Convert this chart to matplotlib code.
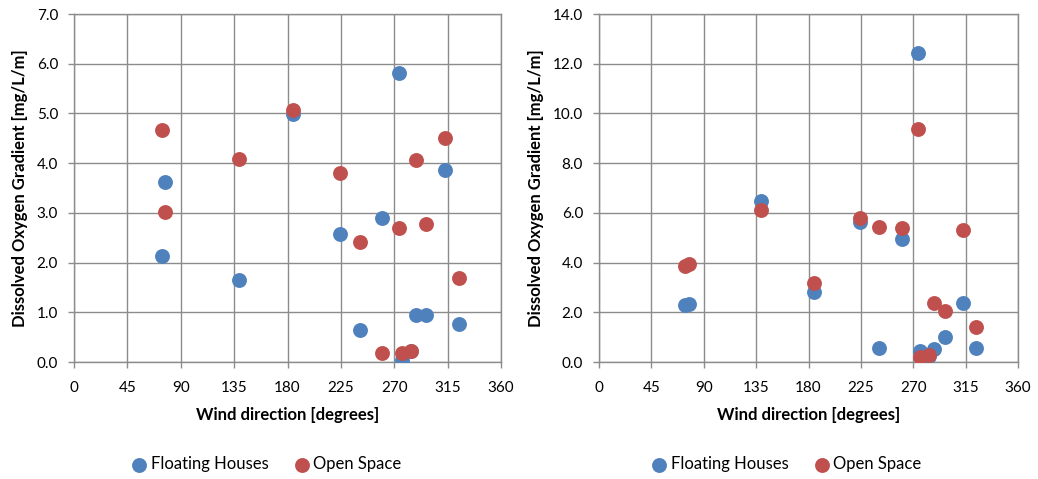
import matplotlib.pyplot as plt
from matplotlib.ticker import FormatStrFormatter

plt.rcParams['font.family'] = ['Lato', 'DejaVu Sans']

# wind direction [degrees], shared by both panels
wind_dir = [74, 77, 139.4, 185, 224, 241, 260, 274.4, 276.2, 283.8, 288, 297, 313, 324.2]

# left panel
left_floating = [2.14, 3.62, 1.65, 4.98, 2.58, 0.65, 2.90, 5.81, 0.05, 0.22, 0.94, 0.94, 3.86, 0.77]
left_open = [4.67, 3.01, 4.09, 5.07, 3.80, 2.42, 0.19, 2.69, 0.19, 0.23, 4.07, 2.78, 4.51, 1.68]

# right panel
right_floating = [2.29, 2.33, 6.47, 2.83, 5.64, 0.56, 4.93, 12.45, 0.46, 0.25, 0.52, 1.00, 2.38, 0.55]
right_open = [3.85, 3.95, 6.11, 3.18, 5.79, 5.44, 5.41, 9.38, 0.20, 0.27, 2.37, 2.06, 5.31, 1.39]

blue = '#4F81BD'
red = '#C0504D'
grid_col = '#8C8C8C'

fig = plt.figure(figsize=(10.38, 4.79), dpi=100)
W, H = 1038, 479
ax1 = fig.add_axes([74 / W, 1 - 362 / H, 427 / W, 348 / H])
ax2 = fig.add_axes([599 / W, 1 - 362 / H, 419 / W, 348 / H])


def style(ax, ymax, ystep):
    ax.set_xlim(0, 360)
    ax.set_ylim(0, ymax)
    ax.set_xticks(range(0, 361, 45))
    ax.set_yticks([i * ystep for i in range(int(round(ymax / ystep)) + 1)])
    ax.yaxis.set_major_formatter(FormatStrFormatter('%.1f'))
    ax.grid(True, color=grid_col, linewidth=1.0)
    ax.set_axisbelow(True)
    for s in ax.spines.values():
        s.set_color(grid_col)
        s.set_linewidth(1.0)
    ax.tick_params(labelcolor='black', length=4.5, width=1.0,
                   labelsize=11, color=grid_col, pad=7)
    ax.tick_params(axis='x', pad=9.5)
    ax.set_xlabel('Wind direction [degrees]', fontsize=12, fontweight='bold', labelpad=8)
    ax.set_ylabel('Dissolved Oxygen Gradient [mg/L/m]', fontsize=12, fontweight='bold', labelpad=6)


ax1.scatter(wind_dir, left_floating, s=115, color=blue, label='Floating Houses', zorder=3, linewidths=0)
ax1.scatter(wind_dir, left_open, s=115, color=red, label='Open Space', zorder=3, linewidths=0)
style(ax1, 7.0, 1.0)

ax2.scatter(wind_dir, right_floating, s=115, color=blue, label='Floating Houses', zorder=3, linewidths=0)
ax2.scatter(wind_dir, right_open, s=115, color=red, label='Open Space', zorder=3, linewidths=0)
style(ax2, 14.0, 2.0)

for ax, cx in ((ax1, 262), (ax2, 782)):
    ax.legend(loc='center', bbox_to_anchor=(cx / W, 1 - 464 / H), bbox_transform=fig.transFigure,
              ncol=2, frameon=False, fontsize=12, handletextpad=-0.3, columnspacing=1.0,
              markerscale=1.0, borderpad=0)

fig.savefig('out.png', dpi=100)
